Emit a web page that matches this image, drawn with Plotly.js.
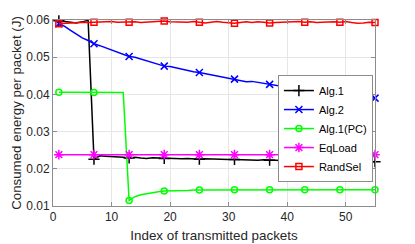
<!DOCTYPE html>
<html>
<head>
<meta charset="utf-8">
<script src="https://cdn.plot.ly/plotly-3.0.1.min.js"></script>
<style>html,body{margin:0;padding:0;background:#fff}#chart{width:415px;height:244px}</style>
</head>
<body>
<div id="chart"></div>
<script>
// x: index of transmitted packets
var packetIndex = [];
for (var i = 1; i <= 55; i++) packetIndex.push(i);

var seriesNames = ["Alg.1", "Alg.2", "Alg.1(PC)", "EqLoad", "RandSel"];

var alg1 = [0.0598,0.0596,0.0594,0.0592,0.0595,0.0599,0.0226,0.0235,0.0234,0.0233,
            0.0234,0.0231,0.0229,0.0231,0.0229,0.0228,0.0230,0.0229,0.0228,0.0229,
            0.0228,0.0227,0.0228,0.0226,0.0226,0.0227,0.0226,0.0225,0.0226,0.0225,
            0.0225,0.0224,0.0225,0.0224,0.0223,0.0224,0.0223,0.0223,0.0222,0.0223,
            0.0222,0.0222,0.0222,0.0221,0.0222,0.0221,0.0220,0.0221,0.0220,0.0220,
            0.0221,0.0219,0.0220,0.0219,0.0219];

var alg2 = [0.0590,0.0583,0.0572,0.0562,0.0552,0.0545,0.0536,0.0531,0.0525,0.0518,
            0.0513,0.0508,0.0502,0.0500,0.0495,0.0490,0.0487,0.0481,0.0476,0.0475,
            0.0471,0.0467,0.0465,0.0461,0.0459,0.0456,0.0452,0.0449,0.0446,0.0443,
            0.0441,0.0438,0.0434,0.0435,0.0432,0.0430,0.0427,0.0424,0.0422,0.0420,
            0.0419,0.0417,0.0415,0.0413,0.0411,0.0410,0.0408,0.0405,0.0403,0.0401,
            0.0399,0.0397,0.0395,0.0393,0.0390];

var alg1PC = [0.0406,0.0406,0.0405,0.0406,0.0406,0.0405,0.0405,0.0406,0.0407,0.0406,
              0.0405,0.0405,0.0115,0.0125,0.0130,0.0133,0.0136,0.0138,0.0140,0.0140,
              0.0141,0.0142,0.0142,0.0143,0.0143,0.0143,0.0143,0.0144,0.0143,0.0144,
              0.0144,0.0143,0.0144,0.0144,0.0143,0.0144,0.0144,0.0144,0.0143,0.0144,
              0.0144,0.0144,0.0144,0.0143,0.0144,0.0144,0.0144,0.0143,0.0144,0.0144,
              0.0144,0.0143,0.0144,0.0144,0.0144];

var eqLoad = [0.0238,0.0238,0.0238,0.0238,0.0238,0.0238,0.0238,0.0238,0.0238,0.0238,
              0.0238,0.0238,0.0238,0.0238,0.0238,0.0238,0.0238,0.0238,0.0238,0.0238,
              0.0238,0.0238,0.0238,0.0238,0.0238,0.0238,0.0238,0.0238,0.0238,0.0238,
              0.0238,0.0238,0.0238,0.0238,0.0238,0.0238,0.0238,0.0238,0.0238,0.0238,
              0.0238,0.0238,0.0238,0.0238,0.0238,0.0238,0.0238,0.0238,0.0238,0.0238,
              0.0238,0.0238,0.0238,0.0238,0.0238];

var randSel = [0.0590,0.0591,0.0593,0.0592,0.0594,0.0593,0.0594,0.0593,0.0595,0.0596,
               0.0594,0.0595,0.0594,0.0595,0.0593,0.0594,0.0596,0.0595,0.0597,0.0595,
               0.0594,0.0593,0.0594,0.0596,0.0594,0.0592,0.0594,0.0596,0.0594,0.0592,
               0.0591,0.0593,0.0595,0.0593,0.0595,0.0594,0.0592,0.0593,0.0594,0.0595,
               0.0594,0.0596,0.0594,0.0595,0.0593,0.0594,0.0596,0.0595,0.0594,0.0596,
               0.0593,0.0591,0.0592,0.0594,0.0593];

var xTicks = [0, 10, 20, 30, 40, 50];
var yTicks = [0.01, 0.02, 0.03, 0.04, 0.05, 0.06];

// marker shown every 6th packet (1, 7, 13, ...)
var markerIdx = [];
for (var k = 0; k < packetIndex.length; k += 6) markerIdx.push(k);

function mk(name, y, color, symbol, size) {
  return {
    x: packetIndex, y: y, name: name, type: 'scatter', mode: 'lines+markers',
    line: {color: color, width: 1.5},
    marker: {color: color, symbol: symbol, size: size, line: {color: color, width: 1.5}},
    selectedpoints: markerIdx,
    selected: {marker: {opacity: 1}},
    unselected: {marker: {opacity: 0}},
    cliponaxis: false
  };
}

var data = [
  mk(seriesNames[0], alg1, '#000000', 'cross-thin-open', 8),
  mk(seriesNames[1], alg2, '#0000ff', 'x-thin-open', 7),
  mk(seriesNames[2], alg1PC, '#00ff00', 'circle-open', 6),
  mk(seriesNames[3], eqLoad, '#ff00ff', 'asterisk-open', 8),
  mk(seriesNames[4], randSel, '#ff0000', 'square-open', 6)
];

var axisCommon = {
  showline: true, linecolor: '#8c8c8c', linewidth: 1, mirror: 'ticks',
  ticks: 'inside', ticklen: 4, tickcolor: '#8c8c8c',
  showgrid: true, gridcolor: '#e6e6e6', zeroline: false,
  tickfont: {family: 'Liberation Sans, Arial, sans-serif', size: 12, color: '#262626'}
};

var layout = {
  width: 415, height: 244,
  margin: {l: 53, r: 40, t: 20, b: 38},
  paper_bgcolor: '#ffffff', plot_bgcolor: '#ffffff',
  font: {family: 'Liberation Sans, Arial, sans-serif', size: 12, color: '#262626'},
  showlegend: true,
  legend: {
    x: 0.846, y: 0.704, xanchor: 'center', yanchor: 'top',
    bgcolor: '#ffffff', bordercolor: '#8c8c8c', borderwidth: 1,
    font: {family: 'Liberation Sans, Arial, sans-serif', size: 11, color: '#000000'},
    tracegroupgap: 0, itemwidth: 30
  },
  xaxis: Object.assign({}, axisCommon, {
    range: [0, 55], tickvals: xTicks,
    title: {text: 'Index of transmitted packets', font: {size: 13.4, color: '#262626'}, standoff: 7}
  }),
  yaxis: Object.assign({}, axisCommon, {
    range: [0.01, 0.06], tickvals: yTicks, tickformat: '.2f',
    title: {text: 'Consumed energy per packet (J)', font: {size: 13.3, color: '#262626'}, standoff: 1}
  })
};

Plotly.newPlot('chart', data, layout, {staticPlot: true, displayModeBar: false});
</script>
</body>
</html>
